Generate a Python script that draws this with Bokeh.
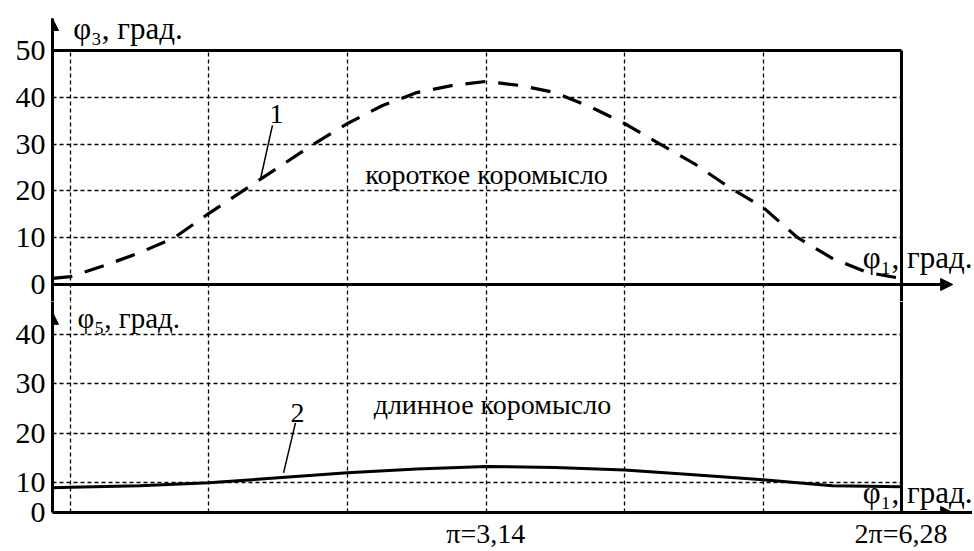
import numpy as np
from bokeh.plotting import figure
from bokeh.layouts import column
from bokeh.models import Range1d, FixedTicker, Arrow, NormalHead, Grid
from bokeh.core.properties import value
from bokeh.embed import file_html
from bokeh.resources import INLINE

# ---------------- data ----------------
# curve 1: short rocker, phi1 [rad] -> phi3 [deg]
phi1_short = [-0.136, 0.000, 0.262, 0.524, 0.785, 1.047, 1.309, 1.571, 1.833, 2.094, 2.356, 2.618, 2.880,
              3.142, 3.403, 3.665, 3.927, 4.189, 4.451, 4.712, 4.974, 5.236, 5.498, 5.760, 6.021, 6.283]
phi3_short = [1.3, 1.7, 4.1, 6.8, 10.0, 15.2, 20.1, 25.0, 29.9, 34.4, 38.2, 41.0, 42.5,
              43.4, 42.5, 41.0, 38.0, 34.4, 30.1, 25.9, 20.9, 16.5, 10.0, 5.6, 2.6, 1.3]
# curve 2: long rocker, phi1 [rad] -> phi5 [deg]
phi1_long = [-0.136, 0.000, 0.524, 1.047, 1.571, 2.094, 2.618, 3.142, 3.665, 4.189, 4.712, 5.236, 5.760, 6.283]
phi5_long = [9.0, 9.1, 9.4, 10.0, 11.0, 12.0, 12.8, 13.3, 13.1, 12.6, 11.6, 10.6, 9.4, 9.2]

y_ticks_top = [0, 10, 20, 30, 40, 50]
y_ticks_bottom = [10, 20, 30, 40]
y_grid = [10, 20, 30, 40]
x_grid = [0.0, 1.047, 2.094, 3.142, 4.189, 5.236]
x_tick_vals = [3.14, 6.28]
x_tick_labels = ["π=3,14", "2π=6,28"]
two_pi = 6.283

# ---------------- layout / styles ----------------
FONT = "Liberation Serif"
X_LO, X_HI = -0.136, 6.82
TOP_LO, TOP_HI = -3.632, 60.68
BOT_LO, BOT_HI = 4.0, 46.59
TOP_AXIS_TIP = 56.84
ARROW_TIP_X = 6.67
W = 972


def style_common(p):
    p.outline_line_color = None
    p.background_fill_color = "white"
    p.border_fill_color = "white"
    ax = p.yaxis[0]
    ax.axis_line_width = 3
    ax.axis_line_color = "black"
    ax.major_tick_line_color = None
    ax.minor_tick_line_color = None
    ax.major_tick_out = 0
    ax.major_tick_in = 0
    ax.major_label_text_font = FONT
    ax.major_label_text_font_size = "30px"
    ax.major_label_text_color = "black"
    ax.major_label_standoff = 7


def add_grids(p, ylo, yhi):
    gx = Grid(dimension=0, ticker=FixedTicker(ticks=x_grid), grid_line_color="black",
              grid_line_dash="4 3", grid_line_width=1.3, cross_bounds=(ylo, yhi))
    gy = Grid(dimension=1, ticker=FixedTicker(ticks=y_grid), grid_line_color="black",
              grid_line_dash="4 3", grid_line_width=1.3, cross_bounds=(X_LO, two_pi))
    p.add_layout(gx)
    p.add_layout(gy)


def head():
    return NormalHead(size=12, fill_color="black", line_color="black", line_width=1)


# ---------------- top panel ----------------
top = figure(width=W, height=301, x_range=Range1d(X_LO, X_HI), y_range=Range1d(TOP_LO, TOP_HI),
             output_backend="svg", toolbar_location=None, x_axis_location=None,
             min_border_left=52, min_border_right=0, min_border_top=0, min_border_bottom=0)
top.grid.visible = False
style_common(top)
top.yaxis.ticker = FixedTicker(ticks=y_ticks_top)
top.yaxis.bounds = (TOP_LO, TOP_AXIS_TIP)
add_grids(top, TOP_LO, 50)

top.segment(x0=[X_LO, two_pi], y0=[50, TOP_LO], x1=[two_pi, two_pi], y1=[50, 50],
            line_color="black", line_width=3)
top.add_layout(Arrow(end=head(), x_start=X_LO, y_start=0, x_end=ARROW_TIP_X, y_end=0,
                     line_width=3, line_color="black"))
top.add_layout(Arrow(end=head(), x_start=X_LO, y_start=50, x_end=X_LO, y_end=TOP_AXIS_TIP,
                     line_width=3, line_color="black"))

top.line(phi1_short, phi3_short, line_color="black", line_width=3.2, line_dash="20 13")
top.segment(x0=[1.527], y0=[34.0], x1=[1.437], y1=[22.6], line_color="black", line_width=1.5)

top.text(x=[0.02, 5.99], y=[54.7, 5.7], text=["φ₃, град.", "φ₁, град."],
         text_font=value(FONT), text_font_size="31px", text_align="left",
         text_baseline="alphabetic", text_color="black")
top.text(x=[3.146], y=[23.5], text=["короткое коромысло"], text_font=value(FONT),
         text_font_size="28px", text_align="center", text_baseline="middle", text_color="black")
top.text(x=[1.558], y=[34.4], text=["1"], text_font=value(FONT), text_font_size="28px",
         text_align="center", text_baseline="bottom", text_color="black")

# ---------------- bottom panel ----------------
bot = figure(width=W, height=250, x_range=top.x_range, y_range=Range1d(BOT_LO, BOT_HI),
             output_backend="svg", toolbar_location=None,
             min_border_left=52, min_border_right=0, min_border_top=0, min_border_bottom=38)
bot.grid.visible = False
style_common(bot)
bot.yaxis.ticker = FixedTicker(ticks=[BOT_LO] + y_ticks_bottom)
bot.yaxis.major_label_overrides = {BOT_LO: "0"}
xa = bot.xaxis[0]
xa.ticker = FixedTicker(ticks=x_tick_vals)
xa.major_label_overrides = dict(zip(x_tick_vals, x_tick_labels))
xa.axis_line_width = 3
xa.axis_line_color = "black"
xa.major_tick_line_color = None
xa.minor_tick_line_color = None
xa.major_tick_out = 0
xa.major_tick_in = 0
xa.major_label_text_font = FONT
xa.major_label_text_font_size = "28px"
xa.major_label_text_color = "black"
xa.major_label_standoff = 5
add_grids(bot, BOT_LO, BOT_HI)

bot.segment(x0=[two_pi], y0=[BOT_LO], x1=[two_pi], y1=[BOT_HI], line_color="black", line_width=3)
bot.add_layout(Arrow(end=head(), x_start=X_LO, y_start=BOT_LO, x_end=ARROW_TIP_X, y_end=BOT_LO,
                     line_width=3, line_color="black"))
bot.add_layout(Arrow(end=head(), x_start=X_LO, y_start=40, x_end=X_LO, y_end=44.4,
                     line_width=3, line_color="black"))

bot.line(phi1_long, phi5_long, line_color="black", line_width=3)
bot.segment(x0=[1.701], y0=[22.1], x1=[1.611], y1=[12.0], line_color="black", line_width=1.5)

bot.text(x=[0.053], y=[43.17], text=["φ₅, град."],
         text_font=value(FONT), text_font_size="29px", text_align="left",
         text_baseline="middle", text_color="black")
bot.text(x=[5.99], y=[8.0], text=["φ₁, град."],
         text_font=value(FONT), text_font_size="31px", text_align="left",
         text_baseline="alphabetic", text_color="black")
bot.text(x=[3.19], y=[25.9], text=["длинное коромысло"], text_font=value(FONT),
         text_font_size="28px", text_align="center", text_baseline="middle", text_color="black")
bot.text(x=[1.716], y=[22.3], text=["2"], text_font=value(FONT), text_font_size="28px",
         text_align="center", text_baseline="bottom", text_color="black")

layout = column(top, bot, spacing=0)
open("out.html", "w").write(file_html(layout, INLINE))
